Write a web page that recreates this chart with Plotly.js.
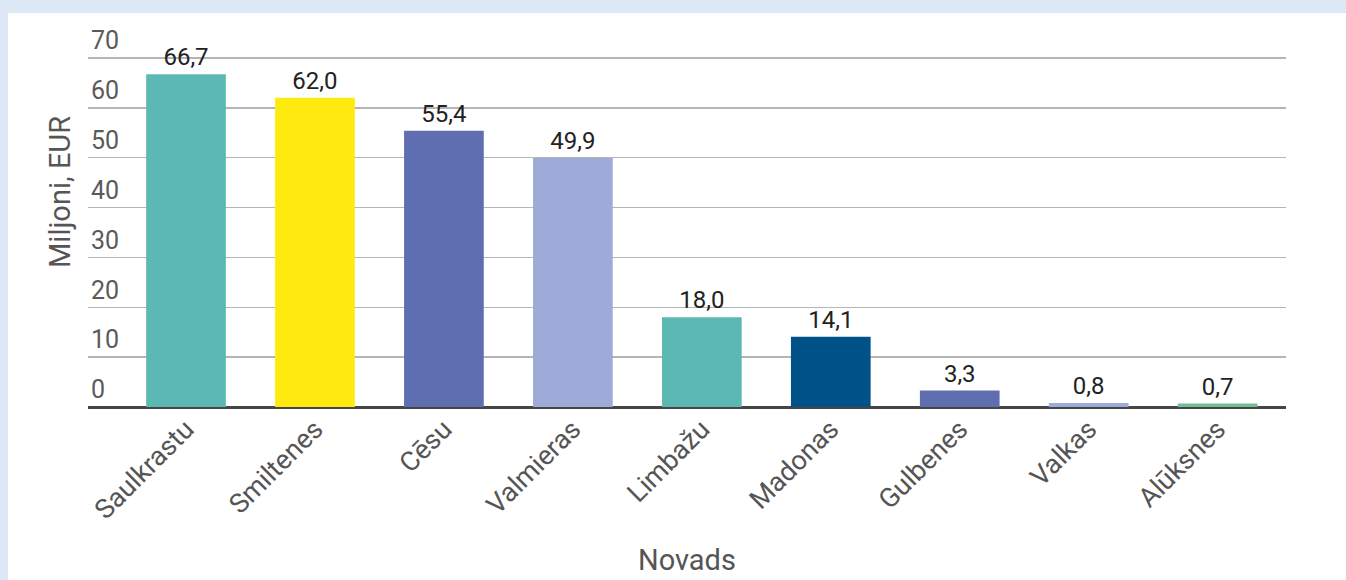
<!DOCTYPE html>
<html>
<head>
<meta charset="utf-8">
<script src="https://cdn.plot.ly/plotly-3.0.1.min.js"></script>
<style>
  html, body { margin: 0; padding: 0; background: #dde8f6; width: 1346px; height: 580px; overflow: hidden; }
  #panel { position: absolute; left: 8px; top: 13px; width: 1338px; height: 567px; background: #ffffff; }
  #chart { position: absolute; left: 0; top: 0; width: 1346px; height: 580px; }
</style>
</head>
<body>
<div id="panel"></div>
<div id="chart"></div>
<script>
const categories = ["Saulkrastu", "Smiltenes", "Cēsu", "Valmieras", "Limbažu", "Madonas", "Gulbenes", "Valkas", "Alūksnes"];
const values = [66.7, 62.0, 55.4, 49.9, 18.0, 14.1, 3.3, 0.8, 0.7];
const barColors = ["#5cb8b3", "#ffea10", "#5f6eb0", "#9eaad8", "#5cb8b3", "#005289", "#5f6eb0", "#9eaad8", "#6fbf95"];
const yTickValues = [0, 10, 20, 30, 40, 50, 60, 70];
const yTitle = "Miljoni, EUR";
const xTitle = "Novads";

const trace = {
  type: "bar",
  x: categories,
  y: values,
  marker: { color: barColors, line: { width: 0 } },
  text: values.map(v => v.toFixed(1).replace(".", ",")),
  textposition: "outside",
  textfont: { family: "Roboto, sans-serif", size: 24, color: "#222222" },
  cliponaxis: false,
  hoverinfo: "x+y"
};

const layout = {
  width: 1346,
  height: 580,
  paper_bgcolor: "rgba(0,0,0,0)",
  plot_bgcolor: "rgba(0,0,0,0)",
  margin: { l: 88, r: 60, t: 8, b: 173, pad: 0 },
  bargap: 0.382,
  showlegend: false,
  font: { family: "Roboto, sans-serif", color: "#555555" },
  xaxis: {
    type: "category",
    range: [-0.76, 8.53],
    tickangle: -45,
    ticks: "",
    showgrid: false,
    showline: false,
    zeroline: false,
    tickfont: { family: "Roboto, sans-serif", size: 27, color: "#555555" },
    fixedrange: true
  },
  yaxis: {
    range: [0, 80],
    tickvals: yTickValues,
    ticktext: yTickValues.map(String),
    ticks: "",
    ticklabelposition: "inside top",
    tickfont: { family: "Roboto, sans-serif", size: 25, color: "#5a5a5a" },
    showgrid: true,
    gridcolor: "#b5b5b5",
    gridwidth: 1.5,
    zeroline: true,
    zerolinecolor: "#454545",
    zerolinewidth: 3,
    showline: false,
    fixedrange: true
  },
  annotations: [
    {
      text: yTitle, xref: "paper", yref: "paper",
      x: -0.0234, y: 0.5388, xanchor: "center", yanchor: "middle",
      textangle: -90, showarrow: false,
      font: { family: "Roboto, sans-serif", size: 29, color: "#555555" }
    },
    {
      text: xTitle, xref: "paper", yref: "paper",
      x: 0.5, y: -0.3835, xanchor: "center", yanchor: "middle",
      showarrow: false,
      font: { family: "Roboto, sans-serif", size: 29, color: "#555555" }
    }
  ]
};

Plotly.newPlot("chart", [trace], layout, { displayModeBar: false, staticPlot: true });
</script>
</body>
</html>
